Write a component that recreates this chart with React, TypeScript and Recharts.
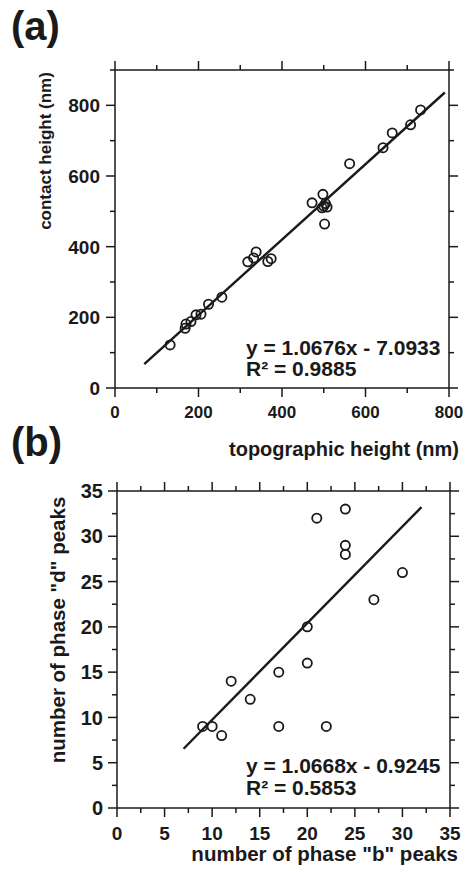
import React from "react";
import { ScatterChart, Scatter, XAxis, YAxis, ReferenceLine } from "recharts";

// panel (a): topographic vs contact height (nm)
const topoHeight = [132, 168, 170, 182, 194, 206, 224, 256, 318, 332, 338, 366, 374, 472, 498, 496, 500, 504, 508, 502, 562, 642, 664, 708, 732];
const contactHeight = [122, 169, 181, 188, 207, 209, 237, 257, 357, 368, 385, 358, 366, 524, 548, 510, 515, 522, 512, 464, 635, 680, 722, 745, 787];
const fitA = { slope: 1.0676, intercept: -7.0933, from: 70, to: 790 };
const ticksAX = [0, 100, 200, 300, 400, 500, 600, 700, 800];
const ticksAY = [0, 100, 200, 300, 400, 500, 600, 700, 800, 900];

// panel (b): phase "b" vs phase "d" peak counts
const phaseB = [9, 10, 11, 12, 14, 17, 17, 20, 20, 21, 22, 24, 24, 24, 27, 30];
const phaseD = [9, 9, 8, 14, 12, 15, 9, 20, 16, 32, 9, 33, 29, 28, 23, 26];
const fitB = { slope: 1.0668, intercept: -0.9245, from: 7, to: 32 };
const ticksB = [0, 2.5, 5, 7.5, 10, 12.5, 15, 17.5, 20, 22.5, 25, 27.5, 30, 32.5, 35];

const INK = "#1a1a1a";
const FONT = "'Liberation Sans', Arial, sans-serif";

const dataA = topoHeight.map((x, i) => ({ x, y: contactHeight[i] }));
const dataB = phaseB.map((x, i) => ({ x, y: phaseD[i] }));

const ring = (props: any) => (
  <circle cx={props.cx} cy={props.cy} r={4.6} fill="none" stroke={INK} strokeWidth={1.8} />
);
const nothing = () => <g />;

type Side = "bottom" | "top" | "left" | "right";

// draws the tick line itself (major/minor length) and the label for majors
const makeTick = (side: Side, major: number, labels: boolean, fontSize: number, gap: number) => (props: any) => {
  const { x, y, payload } = props;
  const v = payload.value;
  const isMajor = Math.abs(v / major - Math.round(v / major)) < 1e-6;
  const len = isMajor ? 9 : 5;
  let x2 = x;
  let y2 = y;
  if (side === "bottom") y2 = y + len;
  else if (side === "top") y2 = y - len;
  else if (side === "left") x2 = x - len;
  else x2 = x + len;
  let text = null;
  if (labels && isMajor && side === "bottom")
    text = <text x={x} y={y + gap} textAnchor="middle" fill={INK} fontFamily={FONT} fontWeight="bold" fontSize={fontSize}>{v}</text>;
  if (labels && isMajor && side === "left")
    text = <text x={x - gap} y={y} dy="0.36em" textAnchor="end" fill={INK} fontFamily={FONT} fontWeight="bold" fontSize={fontSize}>{v}</text>;
  return (
    <g>
      <path d={`M${x},${y}L${x2},${y2}`} stroke={INK} strokeWidth={1.5} fill="none" />
      {text}
    </g>
  );
};

const axisLine = { stroke: INK, strokeWidth: 1.5 };

export default function App() {
  return (
    <div style={{ position: "absolute", left: 0, top: 0, width: 468, height: 874, background: "#fff" }}>
      <div style={{ position: "absolute", left: 0, top: 0 }}>
        <ScatterChart width={468} height={470} margin={{ top: 69, right: 18, bottom: 0, left: 0 }}>
          <XAxis xAxisId="b" dataKey="x" type="number" domain={[0, 800]} ticks={ticksAX} interval={0}
            height={82} tickSize={0} tickMargin={0} tickLine={false} axisLine={axisLine} allowDataOverflow
            tick={makeTick("bottom", 200, true, 17, 30)} />
          <XAxis xAxisId="t" dataKey="x" orientation="top" type="number" domain={[0, 800]} ticks={ticksAX} interval={0}
            height={1} tickSize={0} tickMargin={0} tickLine={false} axisLine={axisLine} allowDataOverflow
            tick={makeTick("top", 200, false, 17, 0)} />
          <YAxis yAxisId="l" dataKey="y" type="number" domain={[0, 900]} ticks={ticksAY} interval={0}
            width={115} tickSize={0} tickMargin={0} tickLine={false} axisLine={axisLine} allowDataOverflow
            tick={makeTick("left", 200, true, 19, 15)} />
          <YAxis yAxisId="r" dataKey="y" orientation="right" type="number" domain={[0, 900]} ticks={ticksAY} interval={0}
            width={1} tickSize={0} tickMargin={0} tickLine={false} axisLine={axisLine} allowDataOverflow
            tick={makeTick("right", 200, false, 19, 0)} />
          <Scatter xAxisId="t" yAxisId="r" data={dataA} shape={nothing} isAnimationActive={false} />
          <ReferenceLine xAxisId="b" yAxisId="l" ifOverflow="visible" stroke={INK} strokeWidth={2.4}
            segment={[
              { x: fitA.from, y: fitA.slope * fitA.from + fitA.intercept },
              { x: fitA.to, y: fitA.slope * fitA.to + fitA.intercept },
            ]} />
          <Scatter xAxisId="b" yAxisId="l" data={dataA} shape={ring} isAnimationActive={false} />
        </ScatterChart>
      </div>

      <div style={{ position: "absolute", left: 0, top: 470 }}>
        <ScatterChart width={468} height={404} margin={{ top: 20, right: 17, bottom: 0, left: 0 }}>
          <XAxis xAxisId="b" dataKey="x" type="number" domain={[0, 35]} ticks={ticksB} interval={0}
            height={66} tickSize={0} tickMargin={0} tickLine={false} axisLine={axisLine} allowDataOverflow
            tick={makeTick("bottom", 5, true, 19, 32)} />
          <XAxis xAxisId="t" dataKey="x" orientation="top" type="number" domain={[0, 35]} ticks={ticksB} interval={0}
            height={1} tickSize={0} tickMargin={0} tickLine={false} axisLine={axisLine} allowDataOverflow
            tick={makeTick("top", 5, false, 19, 0)} />
          <YAxis yAxisId="l" dataKey="y" type="number" domain={[0, 35]} ticks={ticksB} interval={0}
            width={117} tickSize={0} tickMargin={0} tickLine={false} axisLine={axisLine} allowDataOverflow
            tick={makeTick("left", 5, true, 20, 14)} />
          <YAxis yAxisId="r" dataKey="y" orientation="right" type="number" domain={[0, 35]} ticks={ticksB} interval={0}
            width={1} tickSize={0} tickMargin={0} tickLine={false} axisLine={axisLine} allowDataOverflow
            tick={makeTick("right", 5, false, 20, 0)} />
          <Scatter xAxisId="t" yAxisId="r" data={dataB} shape={nothing} isAnimationActive={false} />
          <ReferenceLine xAxisId="b" yAxisId="l" ifOverflow="visible" stroke={INK} strokeWidth={2.4}
            segment={[
              { x: fitB.from, y: fitB.slope * fitB.from + fitB.intercept },
              { x: fitB.to, y: fitB.slope * fitB.to + fitB.intercept },
            ]} />
          <Scatter xAxisId="b" yAxisId="l" data={dataB} shape={ring} isAnimationActive={false} />
        </ScatterChart>
      </div>

      {/* panel letters, axis titles and fit equations */}
      <svg width={468} height={874} style={{ position: "absolute", left: 0, top: 0, pointerEvents: "none" }}
        fontFamily={FONT} fontWeight="bold" fill={INK}>
        <text x={11} y={40} fontSize={40}>(a)</text>
        <text x={11} y={456} fontSize={40}>(b)</text>

        <text x={459} y={456} fontSize={20} textAnchor="end">topographic height (nm)</text>
        <text transform="translate(51,151) rotate(-90)" fontSize={17} textAnchor="middle">contact height (nm)</text>
        <text x={246} y={355} fontSize={21}>y = 1.0676x - 7.0933</text>
        <text x={246} y={376} fontSize={21}>R² = 0.9885</text>

        <text x={458} y={861} fontSize={20.5} textAnchor="end">number of phase "b" peaks</text>
        <text transform="translate(65,630) rotate(-90)" fontSize={20.5} textAnchor="middle">number of phase "d" peaks</text>
        <text x={246} y={773} fontSize={21}>y = 1.0668x - 0.9245</text>
        <text x={246} y={795} fontSize={21}>R² = 0.5853</text>
      </svg>
    </div>
  );
}
